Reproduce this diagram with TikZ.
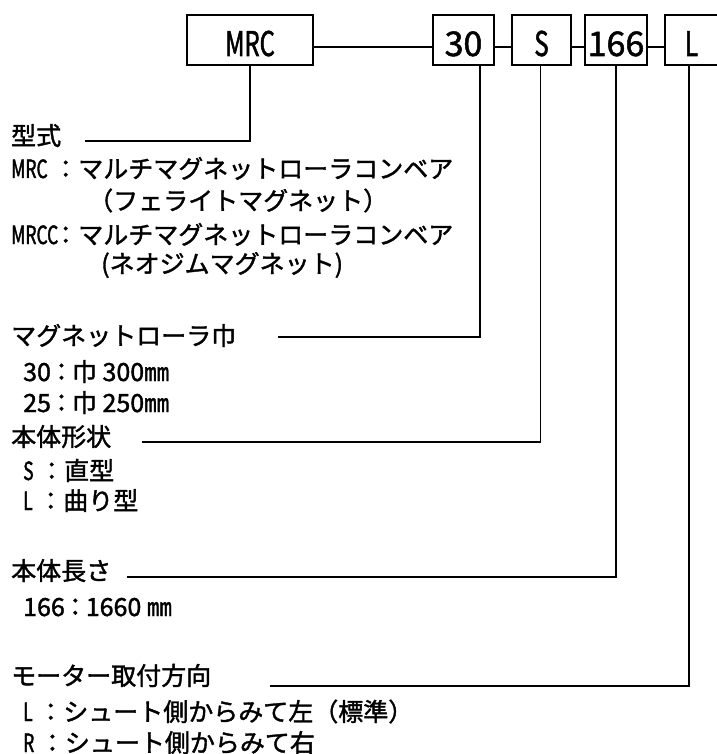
\documentclass[tikz,border=0pt]{standalone}
\usepackage{fontspec}
\setmainfont{Noto Sans CJK JP}[FakeBold=1.5]
\newfontfamily\hw{Noto Sans CJK JP}[FakeStretch=0.7,FakeBold=1.5]
\newcommand\tenn{\kern-2pt：\kern-2pt}

\tikzset{
    hako/.style={draw, line width=1.5pt, inner sep=0pt, anchor=base, text height=41pt, text depth=9pt, font=\fontsize{34}{34}\selectfont},
    moji/.style={inner sep=0pt, anchor=base west, font=\fontsize{25}{30}\selectfont},
    sen/.style={line width=1.5pt}
}

\begin{document}
\begin{tikzpicture}[x=1pt,y=-1pt]
    \path[use as bounding box, fill=white] (0,0) rectangle (716,754);
    %Kasser
        \node[hako, minimum width=126pt] (bmrc) at (250,56) {\hw MRC};
        \node[hako, minimum width=61pt] (b30) at (463.5,56) {30};
        \node[hako, minimum width=59pt] (bs) at (541.5,56) {\hw S};
        \node[hako, minimum width=62pt] (b166) at (616,56) {166};
        \node[hako, minimum width=53pt] (bl) at (691.5,56) {\hw L};
        %
        \draw[sen] ([yshift=-7pt]bmrc.east) -- ([yshift=-7pt]b30.west);
        \draw[sen] ([yshift=-7pt]b30.east) -- ([yshift=-7pt]bs.west);
        \draw[sen] ([yshift=-7pt]bs.east) -- ([yshift=-7pt]b166.west);
        \draw[sen] ([yshift=-7pt]b166.east) -- ([yshift=-7pt]bl.west);
    %Tekst
        \node[moji] (hkata) at (11,145) {型式};
        \node[moji] (kata1) at (11,178) {{\hw MRC} ：マルチマグネットローラコンベア};
        \node[moji] (kata2) at (88,210) {（フェライトマグネット）};
        \node[moji] (kata3) at (11,244) {{\hw MRCC}\kern-5pt：マルチマグネットローラコンベア};
        \node[moji] (kata4) at (101,273) {(ネオジムマグネット)};
        %
        \node[moji] (hhaba) at (11,345) {マグネットローラ巾};
        \node[moji] (haba1) at (23,381) {30\tenn{}巾 300㎜};
        \node[moji] (haba2) at (23,412) {25\tenn{}巾 250㎜};
        %
        \node[moji] (hkeijo) at (11,446) {本体形状};
        \node[moji] (keijo1) at (23,480) {{\hw S} ：直型};
        \node[moji] (keijo2) at (23,510) {{\hw L} ：曲り型};
        %
        \node[moji] (hnagasa) at (11,580) {本体長さ};
        \node[moji] (nagasa1) at (23,616) {166\tenn{}1660 ㎜};
        %
        \node[moji] (hhoukou) at (11,685) {モーター取付方向};
        \node[moji] (houkou1) at (23,721) {{\hw L} ：シュート側からみて左（標準）};
        \node[moji] (houkou2) at (23,752) {{\hw R} ：シュート側からみて右};
    %Linjer
        \coordinate (ekata) at (85,141);
        \coordinate (ehaba) at (278,337);
        \coordinate (ekeijo) at (142,442);
        \coordinate (enagasa) at (127,577);
        \coordinate (ehoukou) at (270,686);
        \draw[sen] (bmrc.south) |- (ekata);
        \draw[sen] ([xshift=16.5pt]b30.south) |- (ehaba);
        \draw[sen] ([xshift=-1pt]bs.south) |- (ekeijo);
        \draw[sen] (b166.south) |- (enagasa);
        \draw[sen] ([xshift=-2.5pt]bl.south) |- (ehoukou);
\end{tikzpicture}
\end{document}
